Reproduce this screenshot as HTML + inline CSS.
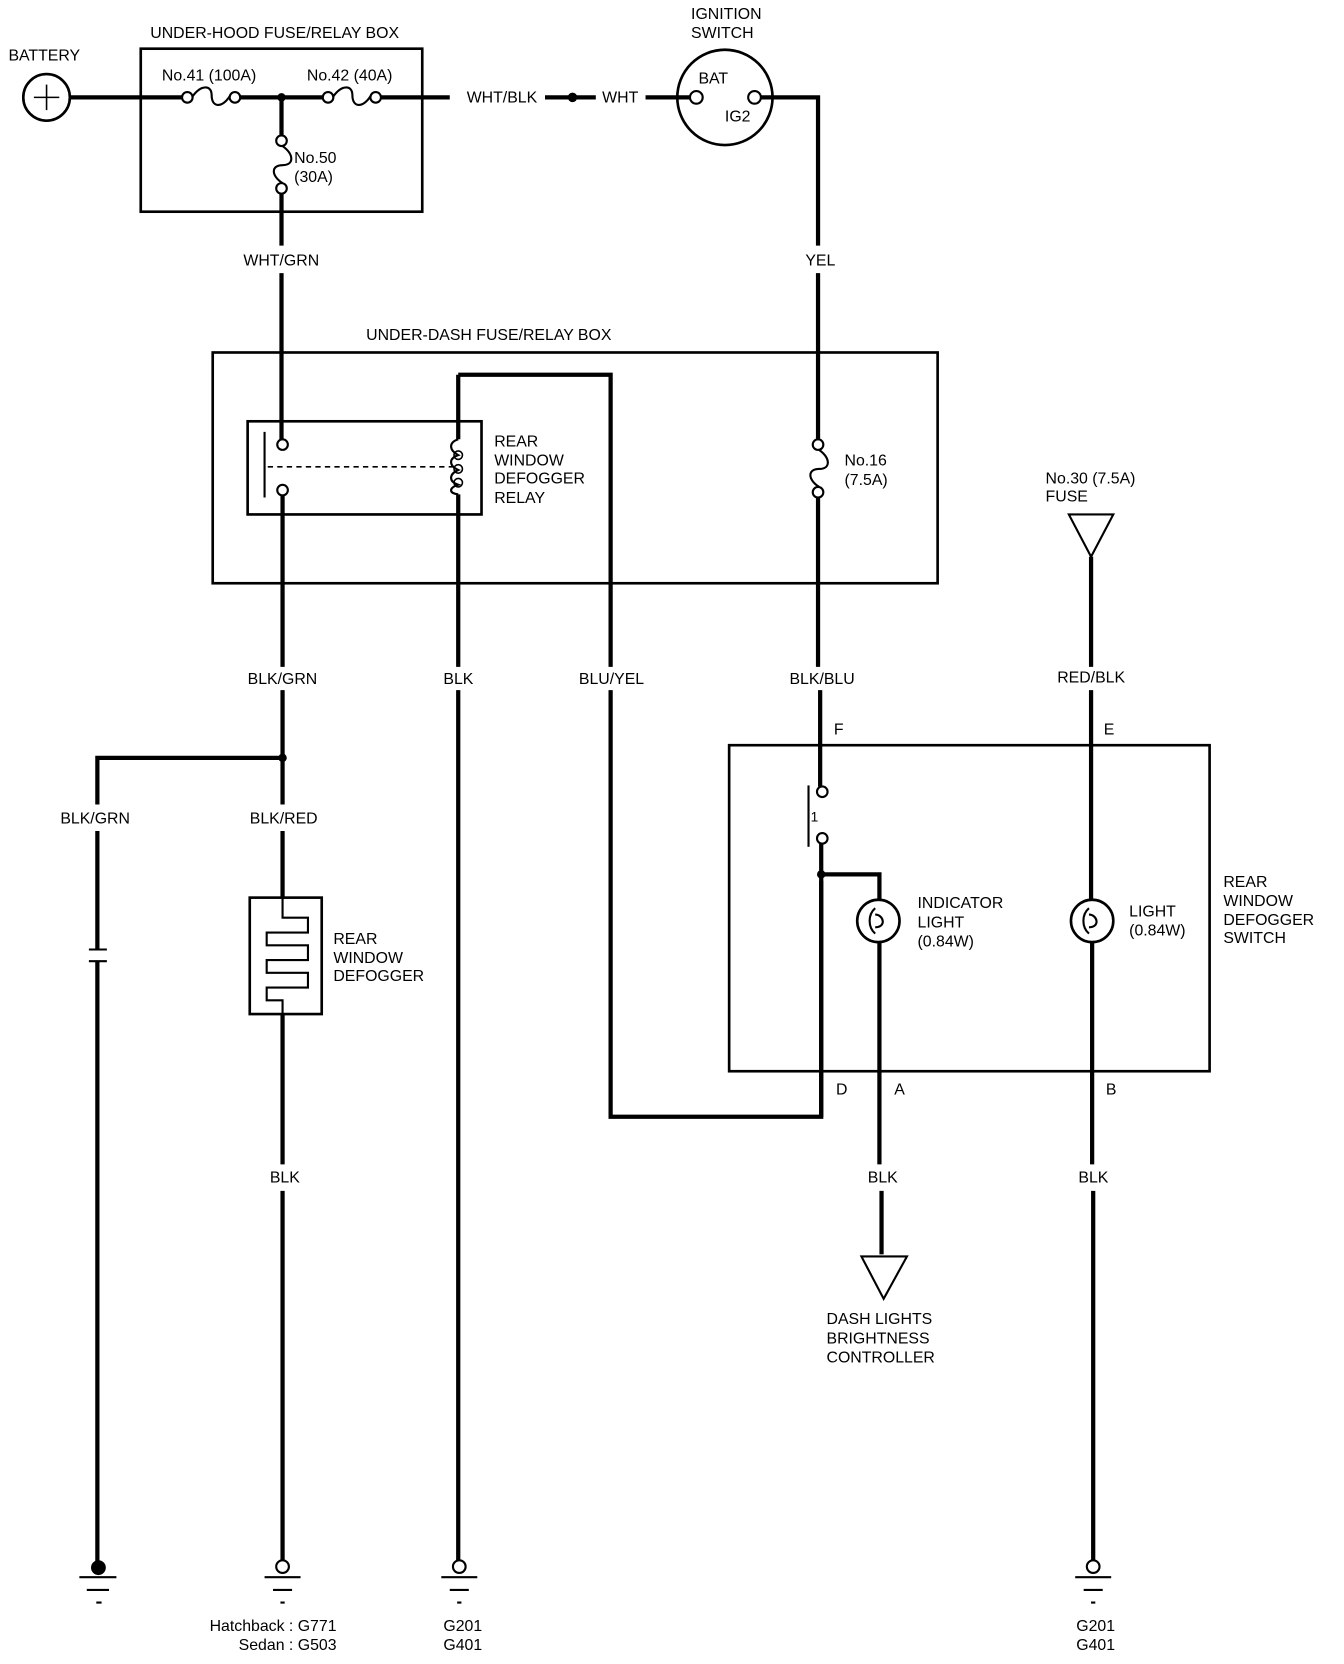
<!DOCTYPE html>
<html><head><meta charset="utf-8"><style>
html,body{margin:0;padding:0;background:#fff;}
svg{display:block;}
text{font-family:"Liberation Sans",sans-serif;font-size:15px;fill:#000;}
</style></head><body>
<svg width="1344" height="1664" viewBox="0 0 1270 1572" preserveAspectRatio="none" xmlns="http://www.w3.org/2000/svg">
<g fill="none" stroke="#000" stroke-width="4">
<circle cx="44" cy="92" r="22" stroke-width="2.5"/>
<path d="M32 92H56M44 80V104" stroke-width="1.5"/>
<path d="M66 92H172M227 92H305M360 92H425"/>
<path d="M515 92H563M610 92H652"/>
<path d="M719 92H773V232M773 258V415"/>
<rect x="133" y="46" width="266" height="154" stroke-width="2.5"/>
<g stroke-width="2">
<circle cx="177" cy="92" r="5"/><circle cx="222" cy="92" r="5"/>
<path d="M182 91C190 80 200 80 200 90C200 102 210 102 217 91"/>
<circle cx="310" cy="92" r="5"/><circle cx="355" cy="92" r="5"/>
<path d="M315 91C323 80 333 80 333 90C333 102 343 102 350 91"/>
<circle cx="266" cy="133" r="5"/><circle cx="266" cy="178" r="5"/>
<path d="M267 138C278 146 278 156 267 156C256 156 256 166 267 173"/>
<circle cx="773" cy="420" r="5"/><circle cx="773" cy="465" r="5"/>
<path d="M774 425C785 433 785 443 774 443C763 443 763 453 774 460"/>
</g>
<path d="M266 92V128M266 183V232M266 258V415"/>
<circle cx="685" cy="92" r="45" stroke-width="2.5"/>
<circle cx="658" cy="92" r="6" stroke-width="2"/>
<circle cx="713" cy="92" r="6" stroke-width="2"/>
<rect x="201" y="333" width="685" height="218" stroke-width="2.5"/>
<rect x="234" y="398" width="221" height="88" stroke-width="2.5"/>
<circle cx="267" cy="420" r="5" stroke-width="2"/>
<circle cx="267" cy="463" r="5" stroke-width="2"/>
<path d="M250 408V470" stroke-width="2"/>
<path d="M253 441H428" stroke-width="1.5" stroke-dasharray="5,4"/>
<path d="M433 354V415M433 467V630M433 652V1474"/>
<path d="M433 415C424 418 424 425 433 430C424 433 424 440 433 444C424 448 424 455 433 458C424 461 424 466 433 467" stroke-width="2"/>
<g stroke-width="1.5"><ellipse cx="433" cy="430" rx="4" ry="4"/><ellipse cx="433" cy="443" rx="4" ry="4"/><ellipse cx="433" cy="456" rx="4" ry="4"/></g>
<path d="M433 354H577V630M577 652V1055H776V832"/>
<path d="M267 468V630M267 652V760M267 785V848"/>
<path d="M266 716H92V760M92 785V897M92 908V1476"/>
<path d="M84 897H101M84 908H101" stroke-width="2"/>
<rect x="236" y="848" width="68" height="110" stroke-width="2.5"/>
<path d="M267 848V867H291V881H252V893H291V907H252V919H291V933H252V945H267V958" stroke-width="2"/>
<path d="M267 958V1100M267 1125V1474"/>
<path d="M773 470V630M775 652V743M776 797V1055"/>
<rect x="689" y="704" width="454" height="308" stroke-width="2.5"/>
<circle cx="777" cy="748" r="5" stroke-width="2"/>
<circle cx="777" cy="792" r="5" stroke-width="2"/>
<path d="M764 742V800" stroke-width="2"/>
<path d="M776 826H831V850M831 890V1100M833 1125V1185"/>
<circle cx="830" cy="870" r="20" stroke-width="2.5"/>
<path d="M827 858C820 864 820 876 827 882M827 864C835 864 838 876 827 876" stroke-width="2"/>
<path d="M814 1187H857L835 1227Z" stroke-width="2"/>
<path d="M1010 486H1052L1031 526Z" stroke-width="2"/>
<path d="M1031 526V630M1031 652V850M1032 890V1100M1033 1125V1474"/>
<circle cx="1032" cy="870" r="20" stroke-width="2.5"/>
<path d="M1029 858C1022 864 1022 876 1029 882M1029 864C1037 864 1040 876 1029 876" stroke-width="2"/>
<g stroke-width="2">
<circle cx="267" cy="1480" r="6"/><circle cx="434" cy="1480" r="6"/><circle cx="1033" cy="1480" r="6"/>
<path d="M75 1490H110M82 1502H103M91 1514H96"/>
<path d="M250 1490H284M258 1502H276M265 1514H269"/>
<path d="M417 1490H451M425 1502H443M432 1514H436"/>
<path d="M1016 1490H1050M1024 1502H1042M1031 1514H1035"/>
</g>
</g>
<g fill="#000">
<circle cx="266" cy="92" r="4"/><circle cx="541" cy="92" r="4.5"/>
<circle cx="267" cy="716" r="4"/><circle cx="776" cy="826" r="4"/>
<circle cx="93" cy="1481" r="7"/>
</g>
<text x="8" y="57">BATTERY</text>
<text x="142" y="36">UNDER-HOOD FUSE/RELAY BOX</text>
<text x="153" y="76">No.41 (100A)</text>
<text x="290" y="76">No.42 (40A)</text>
<text x="278" y="154">No.50</text><text x="278" y="172">(30A)</text>
<text x="441" y="97">WHT/BLK</text>
<text x="569" y="97">WHT</text>
<text x="653" y="18">IGNITION</text><text x="653" y="36">SWITCH</text>
<text x="660" y="79">BAT</text><text x="685" y="115">IG2</text>
<text x="230" y="251">WHT/GRN</text>
<text x="761" y="251">YEL</text>
<text x="346" y="321">UNDER-DASH FUSE/RELAY BOX</text>
<text x="467" y="422">REAR</text><text x="467" y="440">WINDOW</text><text x="467" y="457">DEFOGGER</text><text x="467" y="475">RELAY</text>
<text x="798" y="440">No.16</text><text x="798" y="458">(7.5A)</text>
<text x="988" y="457">No.30 (7.5A)</text><text x="988" y="474">FUSE</text>
<text x="234" y="646">BLK/GRN</text>
<text x="419" y="646">BLK</text>
<text x="547" y="646">BLU/YEL</text>
<text x="746" y="646">BLK/BLU</text>
<text x="999" y="645">RED/BLK</text>
<text x="788" y="694">F</text><text x="1043" y="694">E</text>
<text x="57" y="778">BLK/GRN</text><text x="236" y="778">BLK/RED</text>
<text x="766" y="776" style="font-size:13px">1</text>
<text x="867" y="858">INDICATOR</text><text x="867" y="876">LIGHT</text><text x="867" y="894">(0.84W)</text>
<text x="1067" y="866">LIGHT</text><text x="1067" y="884">(0.84W)</text>
<text x="1156" y="838">REAR</text><text x="1156" y="856">WINDOW</text><text x="1156" y="874">DEFOGGER</text><text x="1156" y="891">SWITCH</text>
<text x="315" y="892">REAR</text><text x="315" y="910">WINDOW</text><text x="315" y="927">DEFOGGER</text>
<text x="790" y="1034">D</text><text x="845" y="1034">A</text><text x="1045" y="1034">B</text>
<text x="255" y="1117">BLK</text><text x="820" y="1117">BLK</text><text x="1019" y="1117">BLK</text>
<text x="781" y="1251">DASH LIGHTS</text><text x="781" y="1269">BRIGHTNESS</text><text x="781" y="1287">CONTROLLER</text>
<text x="318" y="1541" text-anchor="end">Hatchback : G771</text>
<text x="318" y="1559" text-anchor="end">Sedan : G503</text>
<text x="419" y="1541">G201</text><text x="419" y="1559">G401</text>
<text x="1017" y="1541">G201</text><text x="1017" y="1559">G401</text>
</svg>
</body></html>
